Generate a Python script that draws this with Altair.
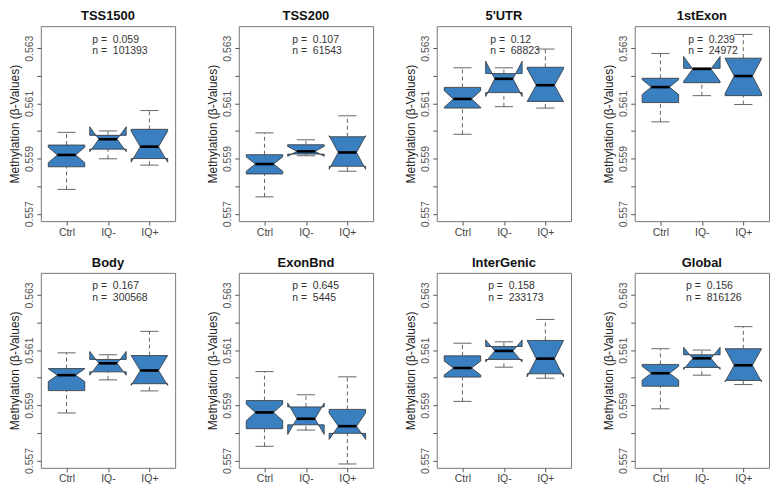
import altair as alt
import pandas as pd

regions = ["TSS1500", "TSS200", "5'UTR", "1stExon", "Body", "ExonBnd", "InterGenic", "Global"]
groups = ["Ctrl", "IQ-", "IQ+"]
p_values = ["0.059", "0.107", "0.12", "0.239", "0.167", "0.645", "0.158", "0.156"]
n_values = ["101393", "61543", "68823", "24972", "300568", "5445", "233173", "816126"]

# per region: [Ctrl, IQ-, IQ+]
whisker_hi = [
    [0.55995, 0.56000, 0.56074],
    [0.55993, 0.55968, 0.56055],
    [0.56229, 0.56229, 0.56297],
    [0.56281, 0.56228, 0.56350],
    [0.56090, 0.56083, 0.56168],
    [0.56022, 0.55938, 0.56003],
    [0.56125, 0.56130, 0.56211],
    [0.56105, 0.56100, 0.56185],
]
q3 = [
    [0.55949, 0.55984, 0.56006],
    [0.55914, 0.55950, 0.55979],
    [0.56158, 0.56208, 0.56231],
    [0.56191, 0.56227, 0.56264],
    [0.56033, 0.56066, 0.56080],
    [0.55917, 0.55894, 0.55885],
    [0.56079, 0.56113, 0.56135],
    [0.56048, 0.56083, 0.56105],
]
median = [
    [0.55913, 0.55970, 0.55943],
    [0.55880, 0.55926, 0.55922],
    [0.56116, 0.56189, 0.56166],
    [0.56159, 0.56225, 0.56199],
    [0.56009, 0.56052, 0.56026],
    [0.55874, 0.55851, 0.55824],
    [0.56035, 0.56097, 0.56069],
    [0.56016, 0.56070, 0.56045],
]
q1 = [
    [0.55870, 0.55934, 0.55900],
    [0.55844, 0.55916, 0.55872],
    [0.56083, 0.56139, 0.56107],
    [0.56103, 0.56175, 0.56128],
    [0.55953, 0.56021, 0.55978],
    [0.55815, 0.55829, 0.55798],
    [0.56002, 0.56066, 0.56014],
    [0.55969, 0.56037, 0.55990],
]
whisker_lo = [
    [0.55788, 0.55899, 0.55876],
    [0.55761, 0.55910, 0.55854],
    [0.55988, 0.56088, 0.56083],
    [0.56033, 0.56128, 0.56096],
    [0.55872, 0.55992, 0.55952],
    [0.55751, 0.55810, 0.55687],
    [0.55914, 0.56038, 0.55998],
    [0.55887, 0.56009, 0.55975],
]
notch_half = [
    [0.00028, 0.00045, 0.00056],
    [0.00026, 0.00018, 0.00061],
    [0.00030, 0.00064, 0.00060],
    [0.00027, 0.00045, 0.00063],
    [0.00023, 0.00043, 0.00054],
    [0.00030, 0.00057, 0.00048],
    [0.00025, 0.00040, 0.00066],
    [0.00025, 0.00040, 0.00060],
]

BLUE = "#3a7fc0"
FONT = "Liberation Sans"
YMIN, YMAX = 0.55673, 0.56380
XMIN, XMAX = 0.38, 3.62
HW = 0.44
W, H = 135, 196

y_ticks = [0.557, 0.558, 0.559, 0.560, 0.561, 0.562, 0.563]


def X(field):
    return alt.X(
        f"{field}:Q",
        scale=alt.Scale(domain=[XMIN, XMAX], nice=False, zero=False),
        axis=alt.Axis(
            values=[1, 2, 3],
            labelExpr="['','Ctrl','IQ-','IQ+'][datum.value]",
            labelAngle=0, labelFontSize=10.5, labelColor="#444", labelFont=FONT,
            tickSize=4, tickColor="#555", labelPadding=2,
            domain=False, grid=False,
        ),
        title=None,
    )


def Y(field):
    return alt.Y(
        f"{field}:Q",
        scale=alt.Scale(domain=[YMIN, YMAX], nice=False, zero=False),
        axis=alt.Axis(
            values=y_ticks,
            labelExpr="round(datum.value*1000) % 2 == 1 ? format(datum.value, '.3f') : ''",
            labelAngle=270, labelAlign="center", labelBaseline="bottom",
            labelFontSize=10.5, labelColor="#555", labelFont=FONT, labelPadding=2,
            tickSize=4, tickColor="#555",
            domain=False, grid=False,
            title="Methylation (β-Values)", titleFont=FONT, titleFontSize=12,
            titleFontWeight="normal", titleColor="#222", titlePadding=3,
            minExtent=16, maxExtent=16,
        ),
    )


def panel(i):
    poly, whisk, staple, med = [], [], [], []
    for j, g in enumerate(groups):
        x = j + 1
        m = median[i][j]
        nh = m + notch_half[i][j]
        nl = m - notch_half[i][j]
        a, b = q1[i][j], q3[i][j]
        pts = [(x - HW, a), (x - HW, nl), (x - HW / 2, m), (x - HW, nh), (x - HW, b),
               (x + HW, b), (x + HW, nh), (x + HW / 2, m), (x + HW, nl), (x + HW, a)]
        for k, (px, py) in enumerate(pts):
            poly.append({"g": g, "k": k, "x": px, "y": py})
        whisk.append({"g": g, "x": x, "y": b, "y2": whisker_hi[i][j]})
        whisk.append({"g": g, "x": x, "y": whisker_lo[i][j], "y2": a})
        staple.append({"x": x - HW / 2, "x2": x + HW / 2, "y": whisker_hi[i][j]})
        staple.append({"x": x - HW / 2, "x2": x + HW / 2, "y": whisker_lo[i][j]})
        med.append({"x": x - HW / 2, "x2": x + HW / 2, "y": m})

    maxlen = max(len("p =  " + p_values[i]), len("n =  " + n_values[i]))
    tx = 1.62 + 0.05 * (11 - maxlen)
    span = YMAX - YMIN
    texts = pd.DataFrame({
        "x": [tx, tx],
        "y": [YMAX - span * 13.5 / H, YMAX - span * 25.0 / H],
        "t": ["p =\u00a0 " + p_values[i], "n =\u00a0 " + n_values[i]],
    })

    box = alt.Chart(pd.DataFrame(poly)).mark_line(
        interpolate="linear-closed", fill=BLUE, stroke="#333", strokeWidth=0.8
    ).encode(x=X("x"), y=Y("y"), order="k:Q", detail="g:N")

    wh = alt.Chart(pd.DataFrame(whisk)).mark_rule(
        color="#555", strokeDash=[4, 3], strokeWidth=0.9
    ).encode(x=X("x"), y=Y("y"), y2="y2:Q")

    st = alt.Chart(pd.DataFrame(staple)).mark_rule(
        color="#555", strokeWidth=0.9
    ).encode(x=X("x"), x2="x2:Q", y=Y("y"))

    md = alt.Chart(pd.DataFrame(med)).mark_rule(
        color="#000", strokeWidth=2.6
    ).encode(x=X("x"), x2="x2:Q", y=Y("y"))

    tx_layer = alt.Chart(texts).mark_text(
        align="left", baseline="middle", fontSize=10.5, font=FONT, color="#333"
    ).encode(x=X("x"), y=Y("y"), text="t:N")

    return alt.layer(box, wh, st, md, tx_layer).properties(
        width=W, height=H,
        title=alt.Title(regions[i], font=FONT, fontSize=13, fontWeight="bold",
                        color="#111", offset=3, anchor="middle", frame="group"),
    )


row1 = alt.hconcat(*[panel(i) for i in range(4)], spacing=30)
row2 = alt.hconcat(*[panel(i) for i in range(4, 8)], spacing=30)
chart = alt.vconcat(row1, row2, spacing=18).configure_view(
    stroke="#777", strokeWidth=1
).properties(padding=0)

chart.save("out.html", embed_options={"renderer": "svg", "actions": False})
